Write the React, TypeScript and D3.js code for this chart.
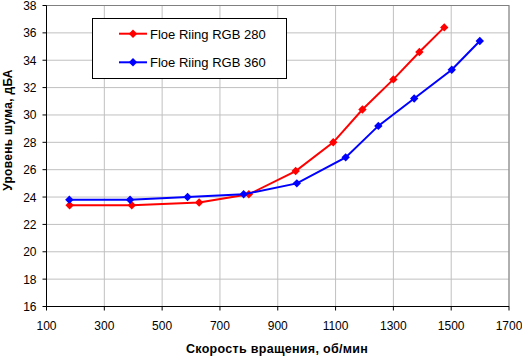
import React from "react";
import * as d3 from "d3";

const rpm280 = [180, 395, 628, 800, 962, 1092, 1193, 1300, 1390, 1476];
const db280 = [23.4, 23.4, 23.6, 24.2, 25.9, 28.0, 30.4, 32.6, 34.6, 36.4];
const rpm360 = [179, 389, 588, 782, 966, 1135, 1248, 1372, 1502, 1599];
const db360 = [23.8, 23.8, 24.0, 24.2, 25.0, 26.9, 29.2, 31.2, 33.3, 35.4];
const xTicks = [100, 300, 500, 700, 900, 1100, 1300, 1500, 1700];
const yTicks = [16, 18, 20, 22, 24, 26, 28, 30, 32, 34, 36, 38];
const seriesNames = ["Floe Riing RGB 280", "Floe Riing RGB 360"];
const colors = ["#ff0000", "#0000ff"];

const W = 522, H = 356;
const L = 46.5, R = 509, T = 5.5, B = 306.5;

export default function App() {
  const x = d3.scaleLinear().domain([100, 1700]).range([L, R]);
  const y = d3.scaleLinear().domain([16, 38]).range([B, T]);
  const line = d3.line<[number, number]>().x(d => x(d[0])).y(d => y(d[1]));
  const series = [
    rpm280.map((r, i) => [r, db280[i]] as [number, number]),
    rpm360.map((r, i) => [r, db360[i]] as [number, number]),
  ];
  const diamond = (cx: number, cy: number, s = 4.2) =>
    `M${cx},${cy - s}L${cx + s},${cy}L${cx},${cy + s}L${cx - s},${cy}Z`;
  const font = "'Liberation Sans', Arial, sans-serif";
  return (
    <svg width={W} height={H} style={{ position: "absolute", left: 0, top: 0, background: "#fff" }} fontFamily={font}>
      <rect x={0} y={0} width={W} height={H} fill="#fff" />
      {xTicks.map(t => (
        <line key={"gx" + t} x1={x(t)} x2={x(t)} y1={T} y2={B} stroke="#c0c0c0" strokeWidth={1} />
      ))}
      {yTicks.map(t => (
        <line key={"gy" + t} x1={L} x2={R} y1={y(t)} y2={y(t)} stroke="#c0c0c0" strokeWidth={1} />
      ))}
      <rect x={L} y={T} width={R - L} height={B - T} fill="none" stroke="#808080" strokeWidth={1} />
      <line x1={L} x2={L} y1={T} y2={B} stroke="#000" strokeWidth={1} />
      <line x1={L} x2={R} y1={B} y2={B} stroke="#000" strokeWidth={1} />
      {xTicks.map(t => (
        <g key={"tx" + t}>
          <line x1={x(t)} x2={x(t)} y1={B} y2={B + 4} stroke="#000" />
          <text x={x(t)} y={B + 23} textAnchor="middle" fontSize={12}>{t}</text>
        </g>
      ))}
      {yTicks.map(t => (
        <g key={"ty" + t}>
          <line x1={L - 4} x2={L} y1={y(t)} y2={y(t)} stroke="#000" />
          <text x={L - 10} y={y(t) + 4.5} textAnchor="end" fontSize={12}>{t}</text>
        </g>
      ))}
      {series.map((s, i) => (
        <g key={"s" + i}>
          <path d={line(s) || ""} fill="none" stroke={colors[i]} strokeWidth={2} />
          {s.map((p, j) => (
            <path key={j} d={diamond(x(p[0]), y(p[1]))} fill={colors[i]} />
          ))}
        </g>
      ))}
      <rect x={92.5} y={18.5} width={194} height={60} fill="#fff" stroke="#000" strokeWidth={1} />
      {seriesNames.map((n, i) => {
        const ly = 33.7 + i * 28.6;
        return (
          <g key={"lg" + i}>
            <line x1={119} x2={147} y1={ly} y2={ly} stroke={colors[i]} strokeWidth={2} />
            <path d={diamond(133, ly)} fill={colors[i]} />
            <text x={150} y={ly + 4.8} fontSize={13}>{n}</text>
          </g>
        );
      })}
      <text x={277} y={353} textAnchor="middle" fontSize={12.5} fontWeight="bold" letterSpacing={0.3}>Скорость вращения, об/мин</text>
      <text transform={`translate(12,130) rotate(-90)`} textAnchor="middle" fontSize={12} fontWeight="bold" letterSpacing={0.3}>Уровень шума, дБА</text>
    </svg>
  );
}
